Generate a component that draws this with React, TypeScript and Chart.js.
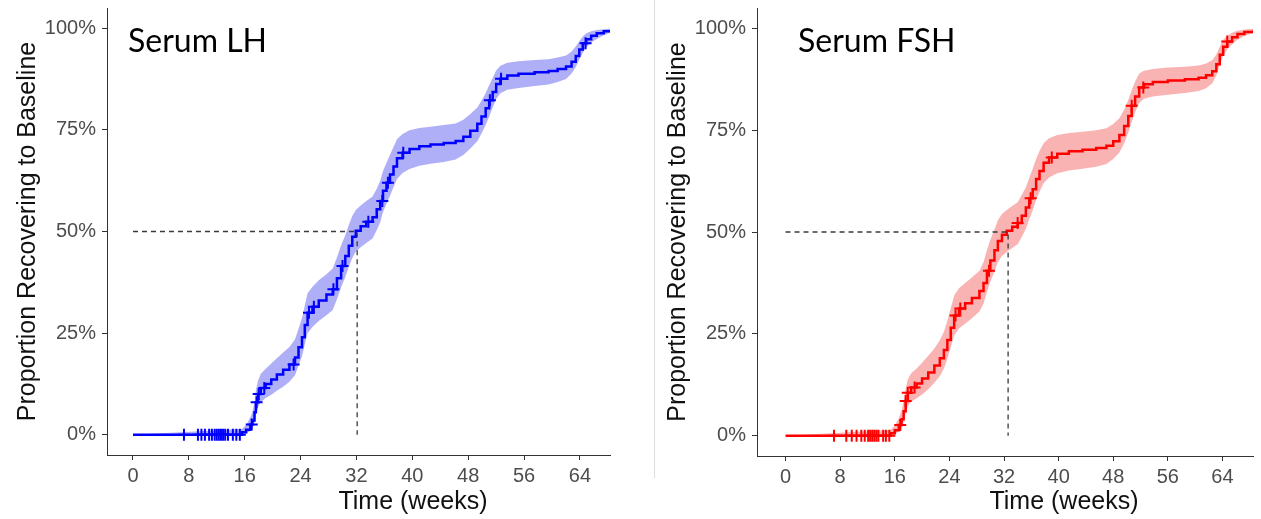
import React, { useEffect, useRef } from "react";
import { Chart, registerables } from "chart.js";

Chart.register(...registerables);

// ---------- shared axis data ----------
const xTickValues = [0, 8, 16, 24, 32, 40, 48, 56, 64];
const yTickValues = [0, 25, 50, 75, 100];
const xAxisTitle = "Time (weeks)";
const yAxisTitle = "Proportion Recovering to Baseline";

// ---------- Serum LH ----------
const lhTime = [0, 15.6, 16.2, 16.8, 17.1, 17.4, 17.6, 17.9, 18.3, 19.0, 19.8, 20.6, 21.5, 22.4, 23.2, 23.7, 24.2, 24.6, 25.0, 25.7, 26.6, 27.7, 28.6, 29.2, 29.8, 30.4, 30.9, 31.4, 31.9, 32.6, 33.4, 34.3, 34.9, 35.4, 35.8, 36.3, 36.8, 37.3, 37.8, 38.6, 39.6, 41.0, 42.6, 44.5, 46.2, 47.3, 48.3, 49.3, 49.9, 50.5, 51.0, 51.5, 52.0, 52.6, 53.6, 55.2, 57.5, 59.5, 60.8, 62.0, 62.8, 63.4, 63.9, 64.4, 64.9, 65.6, 66.4, 67.4, 68.6];
const lhProp = [0, 0.6, 1.2, 2.5, 3.5, 5.5, 8.0, 10.0, 11.5, 12.5, 13.6, 14.8, 16.0, 17.3, 19.0, 21.5, 24.0, 27.0, 30.0, 31.5, 33.0, 34.5, 35.8, 38.5, 41.5, 44.0, 46.5, 48.7, 50.2, 51.3, 52.4, 53.5, 55.5, 57.5, 60.0, 62.0, 64.0, 66.0, 68.0, 69.4, 70.3, 71.0, 71.4, 71.8, 72.3, 73.3, 74.8, 76.5, 78.3, 80.3, 82.3, 84.3, 86.3, 87.6, 88.4, 88.8, 89.2, 89.5, 90.0, 90.6, 91.8, 93.2, 94.8, 96.3, 97.3, 98.2, 98.8, 99.3, 99.7];
const lhLower = [0, 0.1, 0.3, 0.9, 1.5, 3.0, 5.0, 6.8, 8.0, 9.0, 9.8, 10.8, 11.8, 13.0, 14.6, 17.0, 19.3, 22.2, 25.0, 26.5, 28.0, 29.4, 30.7, 33.3, 36.3, 38.8, 41.3, 43.5, 45.0, 46.1, 47.2, 48.3, 50.3, 52.3, 54.8, 56.8, 58.8, 60.9, 62.9, 64.4, 65.4, 66.2, 66.7, 67.1, 67.7, 68.8, 70.4, 72.2, 74.1, 76.2, 78.3, 80.5, 82.6, 84.0, 84.9, 85.3, 85.8, 86.2, 86.8, 87.5, 88.9, 90.5, 92.3, 94.0, 95.3, 96.5, 97.4, 98.3, 99.1];
const lhUpper = [0, 1.4, 2.4, 4.2, 5.6, 8.0, 11.0, 13.3, 15.0, 16.2, 17.5, 18.8, 20.2, 21.6, 23.5, 26.0, 28.7, 31.8, 34.8, 36.4, 38.0, 39.5, 40.9, 43.6, 46.6, 49.1, 51.6, 53.8, 55.3, 56.4, 57.5, 58.6, 60.5, 62.5, 64.9, 66.9, 68.9, 70.8, 72.7, 74.0, 74.9, 75.5, 75.8, 76.2, 76.6, 77.5, 78.9, 80.5, 82.2, 84.1, 86.0, 87.8, 89.6, 90.8, 91.5, 91.9, 92.2, 92.4, 92.8, 93.3, 94.3, 95.5, 96.8, 98.0, 98.8, 99.3, 99.6, 99.8, 100];
const lhCensorTime = [7.3, 9.3, 9.8, 10.3, 10.9, 11.3, 11.7, 12.0, 12.3, 12.6, 12.9, 13.2, 13.6, 14.3, 14.8, 15.3, 17.0, 17.7, 18.0, 18.8, 23.0, 25.2, 25.9, 28.7, 30.0, 33.7, 35.7, 36.5, 38.7, 51.1, 52.7, 64.8];
const lhCensorProp = [0, 0, 0, 0, 0, 0, 0, 0, 0, 0, 0, 0, 0, 0, 0, 0, 2.5, 8.0, 10.0, 11.5, 17.3, 30.0, 31.5, 35.8, 41.5, 52.4, 57.5, 62.0, 69.4, 82.3, 87.6, 96.3];
const lhMedian = 32.1;

// ---------- Serum FSH ----------
const fshTime = [0, 15.4, 16.0, 16.6, 17.0, 17.3, 17.6, 17.9, 18.4, 19.2, 20.0, 20.9, 21.8, 22.6, 23.2, 23.7, 24.2, 24.7, 25.4, 26.3, 27.3, 28.4, 29.0, 29.5, 30.0, 30.6, 31.1, 31.7, 32.4, 33.2, 34.0, 34.6, 35.2, 35.7, 36.2, 36.7, 37.2, 37.8, 38.6, 39.8, 41.5, 43.5, 45.5, 47.0, 48.0, 48.9, 49.6, 50.2, 50.7, 51.2, 51.8, 52.5, 53.8, 56.0, 58.5, 60.5, 61.6, 62.5, 63.1, 63.6, 64.1, 64.7, 65.4, 66.2, 67.2, 68.5];
const fshProp = [0, 0.6, 1.3, 2.6, 4.0, 6.0, 8.5, 10.5, 11.8, 12.8, 14.0, 15.5, 17.2, 19.0, 21.0, 23.5, 26.5, 29.5, 31.2, 32.5, 33.8, 35.5, 37.5, 40.5, 43.0, 45.5, 47.8, 49.3, 50.3, 51.3, 52.2, 54.0, 56.0, 58.3, 60.5, 63.0, 65.0, 67.0, 68.3, 69.2, 69.8, 70.2, 70.6, 71.2, 72.3, 73.8, 76.0, 78.5, 81.0, 83.3, 85.5, 86.3, 86.8, 87.2, 87.5, 87.9, 88.5, 89.5, 91.2, 93.5, 95.5, 96.8, 97.8, 98.6, 99.1, 99.5];
const fshLower = [0, 0.1, 0.3, 1.0, 1.9, 3.4, 5.5, 7.2, 8.3, 9.2, 10.1, 11.4, 13.0, 14.6, 16.5, 18.8, 21.7, 24.6, 26.3, 27.5, 28.8, 30.5, 32.4, 35.3, 37.8, 40.3, 42.6, 44.1, 45.1, 46.1, 47.0, 48.8, 50.8, 53.1, 55.3, 57.9, 59.9, 62.0, 63.4, 64.4, 65.1, 65.5, 66.0, 66.7, 67.9, 69.5, 71.8, 74.4, 77.0, 79.4, 81.7, 82.7, 83.3, 83.7, 84.1, 84.6, 85.3, 86.5, 88.4, 91.0, 93.3, 94.9, 96.1, 97.2, 98.1, 98.8];
const fshUpper = [0, 1.4, 2.5, 4.3, 6.2, 8.6, 11.5, 13.8, 15.3, 16.5, 17.9, 19.6, 21.4, 23.4, 25.5, 28.2, 31.3, 34.4, 36.2, 37.5, 38.8, 40.5, 42.6, 45.6, 48.1, 50.6, 52.9, 54.4, 55.4, 56.4, 57.3, 59.1, 61.0, 63.3, 65.5, 67.9, 69.9, 71.8, 73.0, 73.8, 74.3, 74.6, 75.0, 75.5, 76.5, 77.9, 80.0, 82.4, 84.8, 86.9, 88.9, 89.6, 90.0, 90.4, 90.6, 90.9, 91.4, 92.2, 93.6, 95.5, 97.2, 98.2, 98.9, 99.4, 99.7, 99.9];
const fshCensorTime = [7.1, 8.9, 9.7, 10.4, 11.1, 11.6, 12.1, 12.4, 12.7, 13.0, 13.3, 13.6, 14.3, 14.7, 15.2, 16.8, 17.6, 17.9, 18.9, 24.9, 25.6, 29.8, 34.0, 35.9, 39.0, 50.7, 52.4, 64.7];
const fshCensorProp = [0, 0, 0, 0, 0, 0, 0, 0, 0, 0, 0, 0, 0, 0, 0, 2.6, 8.5, 10.5, 11.8, 29.5, 31.2, 40.5, 52.2, 58.3, 68.3, 81.0, 85.5, 96.8];
const fshMedian = 32.6;

const FONT = '"Liberation Sans", Arial, sans-serif';

type PanelCfg = {
  title: string;
  time: number[];
  prop: number[];
  lower: number[];
  upper: number[];
  cTime: number[];
  cProp: number[];
  median: number;
  line: string;
  band: string;
  xMin: number;
  xMax: number;
  padTop: number;
  padRight: number;
  xAxisHeight: number;
  labelX: number;
  xTitleX: number;
};

const pts = (xs: number[], ys: number[]) => xs.map((x, i) => ({ x, y: ys[i] }));

function Panel({ cfg, left, width }: { cfg: PanelCfg; left: number; width: number }) {
  const ref = useRef<HTMLCanvasElement | null>(null);
  useEffect(() => {
    if (!ref.current) return;
    const textPlugin = {
      id: "panelText",
      afterDraw(chart: any) {
        const ctx = chart.ctx;
        ctx.save();
        ctx.fillStyle = "#000";
        ctx.font = '32px Lato, "Open Sans", sans-serif';
        ctx.textAlign = "left";
        ctx.textBaseline = "alphabetic";
        ctx.fillText(cfg.title, cfg.labelX, 52);
        ctx.fillStyle = "#111";
        ctx.font = "25px " + FONT;
        ctx.textAlign = "center";
        ctx.textBaseline = "middle";
        ctx.fillText(xAxisTitle, cfg.xTitleX, 502);
        ctx.restore();
      },
    };
    const chart = new Chart(ref.current, {
      type: "line",
      data: {
        datasets: [
          {
            label: "median",
            data: [
              { x: 0, y: 50 },
              { x: cfg.median, y: 50 },
              { x: cfg.median, y: 0 },
            ],
            borderColor: "#3a3a3a",
            borderWidth: 1.3,
            borderDash: [5, 4],
            pointRadius: 0,
            fill: false,
            order: 0,
          },
          {
            label: "censored",
            data: pts(cfg.cTime, cfg.cProp),
            showLine: false,
            pointStyle: "cross",
            pointRadius: 6,
            pointBorderWidth: 2,
            borderColor: cfg.line,
            backgroundColor: cfg.line,
            order: 1,
          },
          {
            label: "estimate",
            data: pts(cfg.time, cfg.prop),
            stepped: true,
            borderColor: cfg.line,
            borderWidth: 2.5,
            pointRadius: 0,
            fill: false,
            order: 2,
          },
          {
            label: "upper",
            data: pts(cfg.time, cfg.upper),
            borderColor: "transparent",
            borderWidth: 0,
            pointRadius: 0,
            backgroundColor: cfg.band,
            fill: "+1",
            order: 3,
          },
          {
            label: "lower",
            data: pts(cfg.time, cfg.lower),
            borderColor: "transparent",
            borderWidth: 0,
            pointRadius: 0,
            fill: false,
            order: 4,
          },
        ] as any,
      },
      options: {
        animation: false,
        responsive: false,
        maintainAspectRatio: false,
        devicePixelRatio: 1,
        layout: { padding: { top: cfg.padTop, right: cfg.padRight, left: 0, bottom: 0 } },
        plugins: { legend: { display: false }, tooltip: { enabled: false } },
        scales: {
          x: {
            type: "linear",
            min: cfg.xMin,
            max: cfg.xMax,
            afterBuildTicks: (s: any) => {
              s.ticks = xTickValues.map((v) => ({ value: v }));
            },
            afterFit: (s: any) => {
              s.height = cfg.xAxisHeight;
              s.paddingLeft = 0;
              s.paddingRight = 0;
            },
            grid: { display: true, drawOnChartArea: false, drawTicks: true, tickLength: 5, color: "#333", lineWidth: 1 },
            border: { display: true, color: "#333", width: 1 },
            ticks: { color: "#4d4d4d", font: { family: FONT, size: 20 }, padding: 4, maxRotation: 0, autoSkip: false },
            title: { display: false },
          },
          y: {
            type: "linear",
            min: -5,
            max: 105,
            afterBuildTicks: (s: any) => {
              s.ticks = yTickValues.map((v) => ({ value: v }));
            },
            afterFit: (s: any) => {
              s.width = 107;
              s.paddingTop = 0;
              s.paddingBottom = 0;
            },
            grid: { display: true, drawOnChartArea: false, drawTicks: true, tickLength: 5, color: "#333", lineWidth: 1 },
            border: { display: true, color: "#333", width: 1 },
            ticks: {
              color: "#4d4d4d",
              font: { family: FONT, size: 20 },
              padding: 6,
              autoSkip: false,
              callback: (v: any) => v + "%",
            },
            title: {
              display: true,
              text: yAxisTitle,
              color: "#111",
              font: { family: FONT, size: 25 },
              padding: { top: 13, bottom: 0 },
            },
          },
        },
      },
      plugins: [textPlugin],
    });
    return () => chart.destroy();
  }, [cfg]);
  return (
    <canvas
      ref={ref}
      width={width}
      height={519}
      style={{ position: "absolute", left, top: 0, width, height: 519, display: "block" }}
    />
  );
}

const lhCfg: PanelCfg = {
  title: "Serum LH",
  time: lhTime,
  prop: lhProp,
  lower: lhLower,
  upper: lhUpper,
  cTime: lhCensorTime,
  cProp: lhCensorProp,
  median: lhMedian,
  line: "#0000ff",
  band: "rgba(20, 20, 235, 0.34)",
  xMin: -3.72,
  xMax: 68.3,
  padTop: 7,
  padRight: 30,
  xAxisHeight: 64,
  labelX: 128,
  xTitleX: 413,
};

const fshCfg: PanelCfg = {
  title: "Serum FSH",
  time: fshTime,
  prop: fshProp,
  lower: fshLower,
  upper: fshUpper,
  cTime: fshCensorTime,
  cProp: fshCensorProp,
  median: fshMedian,
  line: "#ff0000",
  band: "rgba(235, 20, 20, 0.32)",
  xMin: -4.18,
  xMax: 68.47,
  padTop: 8,
  padRight: 0,
  xAxisHeight: 63,
  labelX: 148,
  xTitleX: 414,
};

export default function App() {
  return (
    <div style={{ position: "absolute", left: 0, top: 0, width: 1261, height: 519, background: "#fff", overflow: "hidden" }}>
      <Panel cfg={lhCfg} left={0} width={640} />
      <Panel cfg={fshCfg} left={650} width={611} />
      <div style={{ position: "absolute", left: 654, top: 0, width: 1, height: 478, background: "#dedede" }} />
    </div>
  );
}
